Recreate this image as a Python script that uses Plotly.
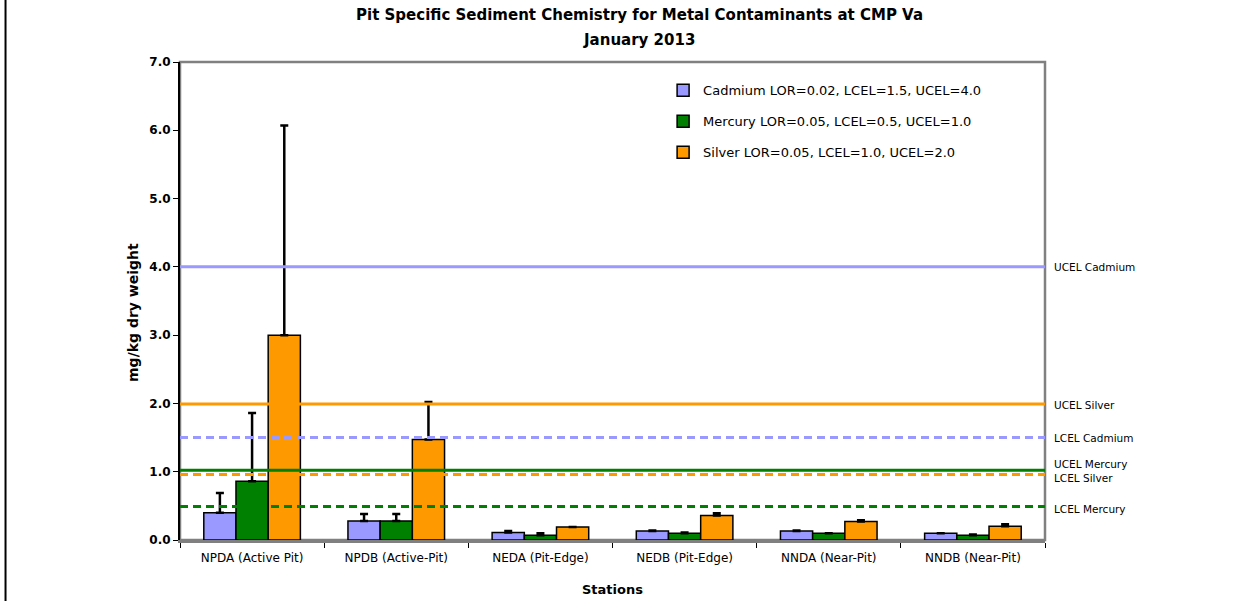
import plotly.graph_objects as go

# DATA ##########################################################################

stations = ["NPDA (Active Pit)", "NPDB (Active-Pit)", "NEDA (Pit-Edge)",
            "NEDB (Pit-Edge)", "NNDA (Near-Pit)", "NNDB (Near-Pit)"]

cadmium = [0.40, 0.28, 0.11, 0.13, 0.13, 0.10]
cadmium_err = [0.29, 0.10, 0.02, 0.01, 0.01, 0.0]
mercury = [0.86, 0.28, 0.07, 0.10, 0.10, 0.07]
mercury_err = [1.00, 0.10, 0.03, 0.01, 0.0, 0.01]
silver = [3.00, 1.47, 0.19, 0.36, 0.27, 0.20]
silver_err = [3.07, 0.55, 0.0, 0.03, 0.02, 0.03]

series_names = ["Cadmium LOR=0.02, LCEL=1.5, UCEL=4.0",
                "Mercury LOR=0.05, LCEL=0.5, UCEL=1.0",
                "Silver LOR=0.05, LCEL=1.0, UCEL=2.0"]
series_colors = ["#9999FF", "#008000", "#FF9900"]

# guideline levels as drawn in the chart
ref_labels = ["UCEL Cadmium", "UCEL Silver", "LCEL Cadmium",
              "UCEL Mercury", "LCEL Silver", "LCEL Mercury"]
ref_values = [4.0, 1.99, 1.5, 1.02, 0.96, 0.49]
ref_colors = ["#9999FF", "#FF9900", "#9999FF", "#008000", "#FF9900", "#008000"]
ref_dashed = [False, False, True, False, True, True]
ref_label_shift = [0, -1, 0, 6, -4, -2]

title_lines = ["Pit Specific Sediment Chemistry for Metal Contaminants at CMP Va",
               "January 2013"]

FONT = "DejaVu Sans, Liberation Sans, Arial, sans-serif"

# FIGURE ########################################################################

fig = go.Figure()

for name, vals, errs, col in zip(series_names,
                                 [cadmium, mercury, silver],
                                 [cadmium_err, mercury_err, silver_err],
                                 series_colors):
    fig.add_trace(go.Bar(
        x=stations, y=vals, name=name, legendgroup=name,
        marker=dict(color=col, line=dict(color="black", width=1.5)),
        error_y=dict(type="data", symmetric=False, array=errs,
                     arrayminus=[0] * len(errs),
                     color="black", thickness=2.5, width=4),
    ))

# reference lines + right hand labels
for lab, val, col, dashed, shift in zip(ref_labels, ref_values, ref_colors,
                                        ref_dashed, ref_label_shift):
    fig.add_shape(type="line", xref="paper", yref="y", x0=0, x1=1,
                  y0=val, y1=val,
                  line=dict(color=col, width=3,
                            dash="8px,5px" if dashed else "solid"))
    fig.add_annotation(xref="paper", yref="y", x=1.008, y=val, text=lab,
                       showarrow=False, xanchor="left", yshift=shift,
                       font=dict(family=FONT, size=10.5, color="black"))

# title (two lines, above the plot)
for txt, ty in zip(title_lines, [1.098, 1.046]):
    fig.add_annotation(xref="paper", yref="paper", x=0.531, y=ty,
                       xanchor="center", yanchor="middle", showarrow=False,
                       text="<b>" + txt + "</b>",
                       font=dict(family=FONT, size=15, color="black"))

# axis titles
fig.add_annotation(xref="paper", yref="paper", x=0.5, y=-0.1046,
                   xanchor="center", yanchor="middle", showarrow=False,
                   text="<b>Stations</b>",
                   font=dict(family=FONT, size=13, color="black"))
fig.add_annotation(xref="paper", yref="paper", x=-0.0543, y=0.475,
                   xanchor="center", yanchor="middle", showarrow=False,
                   textangle=-90, text="<b>mg/kg dry weight</b>",
                   font=dict(family=FONT, size=14, color="black"))

# grey frame on top/right
fig.add_shape(type="rect", xref="paper", yref="paper", x0=0, x1=1, y0=0, y1=1,
              line=dict(color="#808080", width=2.5), layer="below")

# page border on the left
fig.add_shape(type="line", xref="paper", yref="paper",
              x0=-0.2017, x1=-0.2017, y0=-0.14, y1=1.14,
              line=dict(color="black", width=2))

fig.update_layout(
    width=1241, height=601,
    margin=dict(l=180, r=196, t=62, b=61, autoexpand=False),
    paper_bgcolor="white", plot_bgcolor="white",
    barmode="group", bargap=0.33, bargroupgap=0,
    font=dict(family=FONT, color="black"),
    legend=dict(x=0.5585, y=0.972, xanchor="left", yanchor="top",
                bgcolor="rgba(0,0,0,0)", tracegroupgap=11,
                font=dict(family=FONT, size=13, color="black")),
    showlegend=True,
)

fig.update_xaxes(
    showgrid=False, showline=True, linecolor="#808080", linewidth=3,
    ticks="outside", tickson="boundaries", tickcolor="black", ticklen=5,
    tickfont=dict(family=FONT, size=12, color="black"), automargin=False,
    ticklabelstandoff=5,
)

fig.update_yaxes(
    range=[0, 7], dtick=1, tickformat=".1f", showgrid=False,
    showline=True, linecolor="black", linewidth=2,
    ticks="outside", tickcolor="black", ticklen=5, zeroline=False,
    tickfont=dict(family=FONT, size=12, color="black", weight="bold"),
    automargin=False,
)

# the page has no body margin in the reference
fig.write_html("out.html", config={"displayModeBar": False},
               post_script="document.body.style.margin='0';")
